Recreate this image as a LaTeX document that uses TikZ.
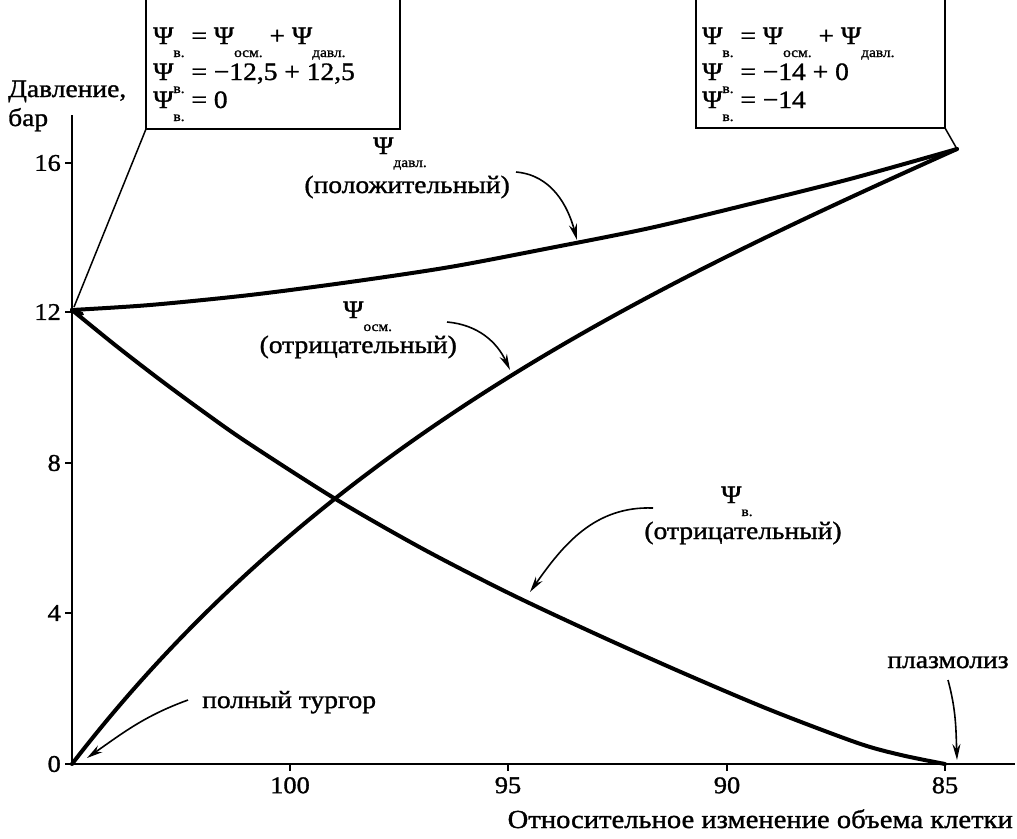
\documentclass[tikz,border=0pt]{standalone}
\usepackage{fontspec}
\setmainfont{Liberation Serif}[FakeStretch=1.1,FakeBold=1.2]
\usetikzlibrary{arrows.meta}
\newcommand{\Psb}[1]{Ψ\raisebox{-0.52em}{\fontsize{14pt}{14pt}\selectfont #1}}
\begin{document}
\begin{tikzpicture}[x=1pt,y=-1pt,
  every node/.style={font=\fontsize{25pt}{27pt}\selectfont, inner sep=0pt},
  axisline/.style={line width=1.6pt},
  curveline/.style={line width=4pt, line join=round, line cap=round},
  boxline/.style={line width=1.5pt},
  callarrow/.style={line width=1.6pt, -{Stealth[length=16pt,width=8pt]}},
  ticklabel/.style={font=\fontsize{24pt}{26pt}\selectfont}]
\useasboundingbox (0,0) rectangle (1017,838);
% axes
\coordinate (yTop) at (72,115);
\coordinate (orig) at (72,764);
\coordinate (xEnd) at (1015,764);
\draw[axisline] (yTop) -- (orig) -- (xEnd);
% y ticks
\foreach \v/\yy in {0/764,4/613,8/463,12/312,16/163}{
  \draw[axisline] (65,\yy) -- (72,\yy);
  \node[ticklabel, anchor=east] (yl\v) at (61,\yy) {\v};
}
% x ticks
\foreach \v/\xx in {100/290,95/508,90/727,85/945}{
  \draw[axisline] (\xx,764) -- (\xx,771);
  \node[ticklabel, anchor=north] (xl\v) at (\xx,777) {\v};
}
\node[anchor=base west] (ylab1) at (8,97) {Давление,};
\node[anchor=base west] (ylab2) at (8,126) {бар};
\node[anchor=base east, font=\fontsize{26pt}{28pt}\selectfont] (xlab) at (1013,828) {Относительное изменение объема клетки};
% curves
\draw[curveline] (72,310) -- (82,314) -- (74,311);
% psi davl
\draw[curveline] plot[smooth] coordinates {(72,310) (150,305) (250,295) (350,282) (450,267) (550,248) (650,228) (750,204) (850,179) (957,149)};
% psi osm
\draw[curveline] (72,764) .. controls (322,439) and (657,284) .. (957,149);
% psi v
\draw[curveline] plot[smooth] coordinates {(72,310) (115.7,345.5) (159.3,379.2) (203,411.4) (246.6,442) (333.9,498) (421.2,548) (508.5,593) (595.8,634) (683.1,673) (770.4,710) (857.7,743) (901,755) (945,764)};
% boxes
\draw[boxline] (146,0) -- (146,129) -- (400,129) -- (400,0);
\draw[boxline] (696,0) -- (696,128) -- (945,128) -- (945,0);
\coordinate (b1c) at (146,129);
\coordinate (p12) at (74,307);
\draw[boxline] (b1c) -- (p12);
\coordinate (b2c) at (945,128);
\coordinate (peak) at (957,149);
\draw[boxline] (b2c) -- (peak);
% box texts
\node[anchor=base west] (a1) at (153,44) {\Psb{в.} = \Psb{осм.} + \Psb{давл.}};
\node[anchor=base west] (a2) at (153,80) {\Psb{в.} = −12,5 + 12,5};
\node[anchor=base west] (a3) at (153,108) {\Psb{в.} = 0};
\node[anchor=base west] (c1) at (702,44) {\Psb{в.} = \Psb{осм.} + \Psb{давл.}};
\node[anchor=base west] (c2) at (702,80) {\Psb{в.} = −14 + 0};
\node[anchor=base west] (c3) at (702,108) {\Psb{в.} = −14};
% curve labels
\node[anchor=base west] (pd) at (373,154) {\Psb{давл.}};
\node[anchor=base east] (pdt) at (510,193) {(положительный)};
\node[anchor=base west] (po) at (343,318) {\Psb{осм.}};
\node[anchor=base east] (pot) at (457,353) {(отрицательный)};
\node[anchor=base west] (pv) at (721,503) {\Psb{в.}};
\node[anchor=base] (pvt) at (743,539) {(отрицательный)};
\node[anchor=base west] (turg) at (202,708) {полный тургор};
\node[anchor=base] (plaz) at (948,668) {плазмолиз};
% arrows
\coordinate (ad) at (577,240);
\coordinate (ao) at (510,370);
\coordinate (av) at (530,592);
\coordinate (at) at (87,758);
\coordinate (ap) at (957,760);
\draw[callarrow] (516,172) to[out=-5,in=105] (ad);
\draw[callarrow] (447,322) to[out=-5,in=115] (ao);
\draw[callarrow] (653,508) to[out=178,in=55] (av);
\draw[callarrow] (188,700) to[out=200,in=35] (at);
\draw[callarrow] (948,680) to[out=-75,in=92] (ap);
\end{tikzpicture}
\end{document}
